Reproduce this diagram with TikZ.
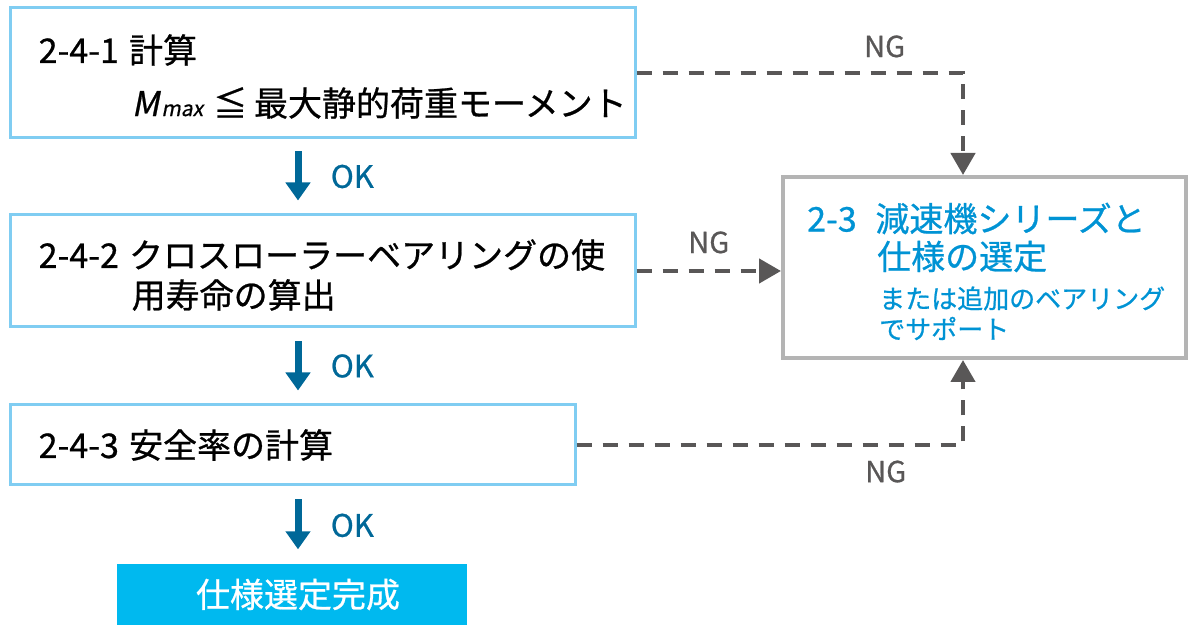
\documentclass[tikz,border=0pt]{standalone}
\usepackage{fontspec}
\setmainfont[FakeBold=0.7]{Noto Sans CJK JP}
\newfontfamily\slantfont[FakeSlant=0.2, FakeBold=0.7]{Noto Sans CJK JP}
\usepackage{tikz}
\usetikzlibrary{positioning, arrows.meta,calc}

\definecolor{boxblue}{RGB}{128,205,242}
\definecolor{boxgray}{RGB}{180,180,180}
\definecolor{nggray}{RGB}{89,87,87}
\definecolor{okblue}{RGB}{0,104,152}
\definecolor{titleblue}{RGB}{0,147,212}
\definecolor{donecyan}{RGB}{0,185,239}

\begin{document}
\begin{tikzpicture}[x=1pt, y=1pt,
	stepbox/.style={rectangle, draw=boxblue, line width=3pt, inner sep=0},
	big/.style={font=\fontsize{34}{40}\selectfont, inner sep=0, anchor=west},
	small/.style={font=\fontsize{26}{30}\selectfont, inner sep=0, anchor=west, text=titleblue},
	okarrow/.style={-{Triangle[width=24pt,length=18pt]}, line width=7pt, draw=okblue},
	ngline/.style={-{Triangle[width=24pt,length=22pt]}, line width=4.5pt, draw=nggray,
		dash pattern=on 15pt off 11pt},
	oklabel/.style={font=\fontsize{31}{31}\selectfont, text=okblue},
	nglabel/.style={font=\fontsize{29}{29}\selectfont, text=nggray}]
	
	\useasboundingbox (0,0) rectangle (1189,624);
	
	% Check boxes
	\node[stepbox, minimum width=625pt, minimum height=130pt] (calc1) at (322.5,551) {};
	
	\node[stepbox, minimum width=625pt, minimum height=112pt] (life) at ($(calc1) + (0,-198)$) {};
	
	\node[stepbox, minimum width=565pt, minimum height=80pt] (safety) at ($(calc1) + (-30,-372)$) {};
	
	\node[rectangle, fill=donecyan, minimum width=350pt, minimum height=60pt, inner sep=0,
	text=white, font=\fontsize{34}{40}\selectfont] (done) at ($(calc1) + (-30.5,-521.5)$) {\hspace{12pt}仕様選定完成};
	
	\node[rectangle, draw=boxgray, line width=4pt, minimum width=403pt,
	minimum height=181pt, inner sep=0] (select) at ($(calc1) + (662,-194.5)$) {};
	
	
	% Texts
	\node[big] (calc1a) at ($(calc1.west) + (30,23)$) {2-4-1\hspace{0.3em}計算};
	\node[big] (calc1b) at ($(calc1.west) + (123,-30)$) {{\slantfont M\hspace{2pt}{\fontsize{21}{21}\selectfont max}}\hspace{0.3em}≦\hspace{0.2em}最大静的荷重モーメント};
	
	\node[big] (lifea) at ($(life.west) + (30,16)$) {2-4-2\hspace{0.3em}クロスローラーベアリングの使};
	\node[big] (lifeb) at ($(life.west) + (123,-24)$) {用寿命の算出};
	
	\node[big] (safetya) at ($(safety.west) + (30,0)$) {2-4-3\hspace{0.3em}安全率の計算};
	
	\node[big, text=titleblue] (selecta) at ($(select.west) + (26,49)$) {2-3\hspace{0.55em}減速機シリーズと};
	\node[big, text=titleblue] (selectb) at ($(select.west) + (96,11)$) {仕様の選定};
	\node[small] (selectc) at ($(select.west) + (98,-31)$) {または追加のベアリング};
	\node[small] (selectd) at ($(select.west) + (98,-61)$) {でサポート};
	
	
	% Connections
	\coordinate (okx) at (298,0);
	
	\draw[okarrow, shorten <=12pt, shorten >=13pt] (calc1.south -| okx) -- (life.north -| okx)
	node[midway, right=26pt, oklabel] {OK};
	\draw[okarrow, shorten <=13pt, shorten >=13pt] (life.south -| okx) -- (safety.north -| okx)
	node[midway, right=26pt, oklabel] {OK};
	\draw[okarrow, shorten <=13pt, shorten >=15pt] (safety.south -| okx) -- (done.north -| okx)
	node[midway, right=26pt, oklabel] {OK};
	
	\draw[ngline] (calc1.east) -| ([xshift=-21.5pt]select.north)
	node[pos=0.38, above=10pt, nglabel] {NG};
	\draw[ngline] (life.east) -- (life.east -| select.west)
	node[midway, above=12pt, nglabel] {NG};
	\draw[ngline] (safety.east) -| ([xshift=-21.5pt]select.south)
	node[pos=0.4, below=10pt, nglabel] {NG};
	
\end{tikzpicture}
\end{document}
